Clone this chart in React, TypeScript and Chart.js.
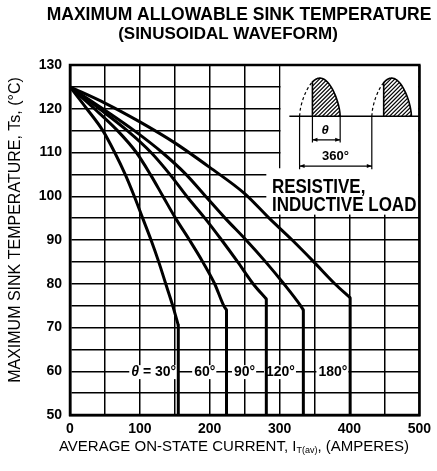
import React, { useEffect, useRef } from 'react';
import { Chart, registerables } from 'chart.js';

Chart.register(...registerables);

const FONT = '"Liberation Sans", Arial, Helvetica, sans-serif';

// ---- text ----
const titleLines = ['MAXIMUM ALLOWABLE SINK TEMPERATURE', '(SINUSOIDAL WAVEFORM)'];
const yAxisTitle = 'MAXIMUM SINK TEMPERATURE, Ts, (°C)';
const xAxisTitleParts = ['AVERAGE ON-STATE CURRENT, I', 'T(av)', ', (AMPERES)'];
const loadLabels = ['RESISTIVE,', 'INDUCTIVE LOAD'];
const angleLabels = ['30°', '60°', '90°', '120°', '180°'];
const angleLabelRight = [152, 208, 265, 322, 397];

// ---- axes ----
const xMin = 0;
const xMax = 500;
const xStep = 50;
const xLabelStep = 100;
const yMin = 50;
const yMax = 130;
const yStep = 5;
const yLabelStep = 10;

// ---- curves (current A, sink temperature °C) ----
const curve30Current = [0, 24, 47, 64, 79, 92, 104, 116, 127, 137, 147, 155, 155];
const curve30Temp = [125, 120, 115, 110, 105, 100, 95, 90, 85, 80, 75, 70.5, 50];

const curve60Current = [0, 35, 68, 95, 115, 133, 151, 171, 190, 207, 220, 224, 224];
const curve60Temp = [125, 120, 115, 110, 105, 100, 95, 90, 85, 80, 75, 74, 50];

const curve90Current = [0, 42, 82, 116, 143, 167, 193, 217, 240, 262, 281, 281];
const curve90Temp = [125, 120, 115, 110, 105, 100, 95, 90, 85, 80, 76.5, 50];

const curve120Current = [0, 47, 92, 132, 166, 194, 222, 252, 280, 306, 330, 334, 334];
const curve120Temp = [125, 120, 115, 110, 105, 100, 95, 90, 85, 80, 75, 74, 50];

const curve180Current = [0, 50, 100, 150, 200, 250, 285, 318, 349, 379, 401, 401];
const curve180Temp = [125, 121.3, 117, 112.2, 106.6, 100.6, 95, 90, 85, 80, 76.8, 50];

const curves = [
  { current: curve30Current, temp: curve30Temp },
  { current: curve60Current, temp: curve60Temp },
  { current: curve90Current, temp: curve90Temp },
  { current: curve120Current, temp: curve120Temp },
  { current: curve180Current, temp: curve180Temp },
];

// ---- inset (waveform sketch) in data units ----
const insetLeft = 300;
const insetBottom = 106.4;
const textBoxLeft = 281;
const textBoxBottom = 95.8;
const waveBase = 118.3;
const waveTop = 127.0;
const baselineStart = 314;
const humps = [
  { start: 328.6, hatch: 347, end: 386.7 },
  { start: 432, hatch: 449, end: 488.7 },
];
const thetaDimY = 112.9;
const thetaExtY = 112.3;
const thetaLabelPos = { x: 365, y: 115.1 };
const periodDimY = 106.9;
const periodExtY = 106.2;
const periodLabelPos = { x: 380, y: 109.0 };
const loadLabelX = 289;
const loadLabelY = [102.0, 97.9];
const angleLabelTemp = 59.8;

const lineStyle = {
  showLine: true,
  borderColor: '#000',
  backgroundColor: '#000',
  borderWidth: 3,
  pointRadius: 0,
  borderJoinStyle: 'round' as const,
};

const decorPlugin = {
  id: 'decor',
  beforeDatasetsDraw(chart: any) {
    const { ctx, chartArea: a, scales } = chart;
    const px = (v: number) => scales.x.getPixelForValue(v);
    const py = (v: number) => scales.y.getPixelForValue(v);
    ctx.save();

    // white areas
    ctx.fillStyle = '#fff';
    ctx.fillRect(px(insetLeft) + 1, a.top + 1, a.right - px(insetLeft) - 2, py(insetBottom) - a.top);
    ctx.fillRect(px(textBoxLeft), py(insetBottom), a.right - px(textBoxLeft) - 1, py(textBoxBottom) - py(insetBottom));

    // baseline
    ctx.strokeStyle = '#000';
    ctx.fillStyle = '#000';
    ctx.lineWidth = 1.6;
    const yb = py(waveBase);
    const yt = py(waveTop);
    ctx.beginPath();
    ctx.moveTo(px(baselineStart), yb);
    ctx.lineTo(a.right, yb);
    ctx.stroke();

    const humpY = (xp: number, s: number, e: number) => {
      const t = Math.min(1, Math.max(0, (xp - s) / (e - s)));
      return yb - (yb - yt) * Math.pow(Math.sin(Math.PI * t), 0.6);
    };

    humps.forEach((h) => {
      const s = px(h.start);
      const hx = px(h.hatch);
      const e = px(h.end);
      ctx.save();
      ctx.setLineDash([3, 2.5]);
      ctx.lineWidth = 1.2;
      ctx.beginPath();
      for (let xp = s; xp <= hx; xp += 0.5) {
        const yy = humpY(xp, s, e);
        if (xp === s) ctx.moveTo(xp, yy);
        else ctx.lineTo(xp, yy);
      }
      ctx.stroke();
      ctx.restore();

      ctx.beginPath();
      ctx.moveTo(hx, yb);
      for (let xp = hx; xp <= e; xp += 0.5) ctx.lineTo(xp, humpY(xp, s, e));
      ctx.lineTo(e, yb);
      ctx.closePath();
      ctx.save();
      ctx.clip();
      ctx.lineWidth = 1.2;
      for (let k = -(yb - yt) - 4; k < e - hx + 4; k += 4) {
        ctx.beginPath();
        ctx.moveTo(hx + k, yb);
        ctx.lineTo(hx + k + (yb - yt), yt);
        ctx.stroke();
      }
      ctx.restore();
      ctx.lineWidth = 1.6;
      ctx.beginPath();
      ctx.moveTo(hx, yb);
      for (let xp = hx; xp <= e; xp += 0.5) ctx.lineTo(xp, humpY(xp, s, e));
      ctx.lineTo(e, yb);
      ctx.stroke();
    });

    const arrow = (x: number, y: number, dir: number) => {
      ctx.beginPath();
      ctx.moveTo(x, y);
      ctx.lineTo(x - dir * 5, y - 2);
      ctx.lineTo(x - dir * 5, y + 2);
      ctx.closePath();
      ctx.fill();
    };
    ctx.lineWidth = 1.2;
    const h0 = humps[0];
    const h1 = humps[1];
    const tx1 = px(h0.hatch);
    const tx2 = px(h0.end);
    ctx.beginPath();
    ctx.moveTo(tx1, yb); ctx.lineTo(tx1, py(thetaExtY));
    ctx.moveTo(tx2, yb); ctx.lineTo(tx2, py(thetaExtY));
    ctx.moveTo(tx1, py(thetaDimY)); ctx.lineTo(tx2, py(thetaDimY));
    ctx.stroke();
    arrow(tx1, py(thetaDimY), -1);
    arrow(tx2, py(thetaDimY), 1);
    const p1 = px(h0.start);
    const p2 = px(h1.start);
    ctx.beginPath();
    ctx.moveTo(p1, yb); ctx.lineTo(p1, py(periodExtY));
    ctx.moveTo(p2, yb); ctx.lineTo(p2, py(periodExtY));
    ctx.moveTo(p1, py(periodDimY)); ctx.lineTo(p2, py(periodDimY));
    ctx.stroke();
    arrow(p1, py(periodDimY), -1);
    arrow(p2, py(periodDimY), 1);

    ctx.textBaseline = 'middle';
    ctx.textAlign = 'center';
    ctx.font = `italic bold 13px ${FONT}`;
    ctx.fillText('θ', px(thetaLabelPos.x), py(thetaLabelPos.y));
    ctx.font = `bold 13px ${FONT}`;
    ctx.fillText('360°', px(periodLabelPos.x), py(periodLabelPos.y));

    // load label (slightly tall lettering)
    ctx.textAlign = 'left';
    ctx.font = `bold 17px ${FONT}`;
    loadLabels.forEach((t, i) => {
      ctx.save();
      ctx.translate(px(loadLabelX), py(loadLabelY[i]));
      ctx.scale(1, 1.15);
      ctx.fillText(t, 0, 0);
      ctx.restore();
    });

    // angle labels
    const ly = py(angleLabelTemp);
    angleLabels.forEach((lab, i) => {
      const right = px(angleLabelRight[i]);
      ctx.font = `bold 14px ${FONT}`;
      const w = ctx.measureText(lab).width;
      let prefixW = 0;
      if (i === 0) {
        ctx.font = `italic bold 14px ${FONT}`;
        prefixW = ctx.measureText('θ').width;
        ctx.font = `bold 14px ${FONT}`;
        prefixW += ctx.measureText(' = ').width;
      }
      const left = right - w - prefixW;
      ctx.fillStyle = '#fff';
      ctx.fillRect(left - 2, ly - 7, right - left + 3, 14);
      ctx.fillStyle = '#000';
      ctx.textAlign = 'left';
      if (i === 0) {
        ctx.font = `italic bold 14px ${FONT}`;
        ctx.fillText('θ', left, ly);
        const tw = ctx.measureText('θ').width;
        ctx.font = `bold 14px ${FONT}`;
        ctx.fillText(' = ', left + tw, ly);
      }
      ctx.font = `bold 14px ${FONT}`;
      ctx.fillText(lab, right - w, ly);
    });

    // frame
    ctx.lineWidth = 2.5;
    ctx.strokeStyle = '#000';
    ctx.strokeRect(a.left, a.top, a.right - a.left, a.bottom - a.top);
    ctx.restore();
  },
  afterDraw(chart: any) {
    const { ctx } = chart;
    ctx.save();
    ctx.fillStyle = '#000';
    ctx.textBaseline = 'middle';
    ctx.textAlign = 'center';
    ctx.font = `bold 17.5px ${FONT}`;
    ctx.fillText(titleLines[0], 239, 15);
    ctx.font = `bold 17px ${FONT}`;
    ctx.fillText(titleLines[1], 228, 34);

    ctx.save();
    ctx.translate(15.5, 230);
    ctx.rotate(-Math.PI / 2);
    ctx.font = `16px ${FONT}`;
    ctx.fillText(yAxisTitle, 0, 0);
    ctx.restore();

    ctx.textAlign = 'left';
    ctx.font = `15px ${FONT}`;
    const w1 = ctx.measureText(xAxisTitleParts[0]).width;
    const w3 = ctx.measureText(xAxisTitleParts[2]).width;
    ctx.font = `9px ${FONT}`;
    const w2 = ctx.measureText(xAxisTitleParts[1]).width;
    const total = w1 + w2 + w3;
    let x0 = 234 - total / 2;
    const yT = 447;
    ctx.font = `15px ${FONT}`;
    ctx.fillText(xAxisTitleParts[0], x0, yT);
    x0 += w1;
    ctx.font = `9px ${FONT}`;
    ctx.fillText(xAxisTitleParts[1], x0, yT + 4);
    x0 += w2;
    ctx.font = `15px ${FONT}`;
    ctx.fillText(xAxisTitleParts[2], x0, yT);
    ctx.restore();
  },
};

export default function App() {
  const ref = useRef<HTMLCanvasElement | null>(null);
  useEffect(() => {
    document.body.style.margin = '0';
    const canvas = ref.current;
    if (!canvas) return;
    const datasets: any[] = [];
    curves.forEach((c) => {
      const n = c.current.length;
      // sloped (smooth) part
      datasets.push({
        ...lineStyle,
        data: c.current.slice(0, n - 1).map((x, i) => ({ x, y: c.temp[i] })),
        cubicInterpolationMode: 'monotone',
      });
      // vertical drop at the current limit
      datasets.push({
        ...lineStyle,
        data: c.current.slice(n - 2).map((x, i) => ({ x, y: c.temp[n - 2 + i] })),
        tension: 0,
      });
    });
    const chart = new Chart(canvas, {
      type: 'scatter',
      data: { datasets },
      options: {
        animation: false,
        responsive: false,
        devicePixelRatio: 1,
        layout: { padding: { left: 0, right: 14, top: 65, bottom: 0 } },
        plugins: {
          legend: { display: false },
          tooltip: { enabled: false },
          title: { display: false },
        },
        scales: {
          x: {
            type: 'linear',
            min: xMin,
            max: xMax,
            ticks: {
              stepSize: xStep,
              autoSkip: false,
              maxRotation: 0,
              padding: 6,
              color: '#000',
              font: { family: FONT, size: 14, weight: 'bold' },
              callback: (v: any) => (Number(v) % xLabelStep === 0 ? String(v) : ''),
            },
            grid: { color: '#000', lineWidth: 1.5, drawTicks: false },
            border: { color: '#000', width: 2.5 },
            afterFit: (s: any) => {
              s.height = 56;
            },
          },
          y: {
            type: 'linear',
            min: yMin,
            max: yMax,
            ticks: {
              stepSize: yStep,
              autoSkip: false,
              padding: 8,
              color: '#000',
              font: { family: FONT, size: 14, weight: 'bold' },
              callback: (v: any) => (Number(v) % yLabelStep === 0 ? String(v) : ''),
            },
            grid: { color: '#000', lineWidth: 1.5, drawTicks: false },
            border: { color: '#000', width: 2.5 },
            afterFit: (s: any) => {
              s.width = 70;
            },
          },
        },
      } as any,
      plugins: [decorPlugin],
    });
    return () => chart.destroy();
  }, []);
  return (
    <div style={{ position: 'absolute', left: 0, top: 0, width: 437, height: 471, background: '#fff' }}>
      <canvas ref={ref} width={437} height={471} style={{ width: 437, height: 471, display: 'block' }} />
    </div>
  );
}
